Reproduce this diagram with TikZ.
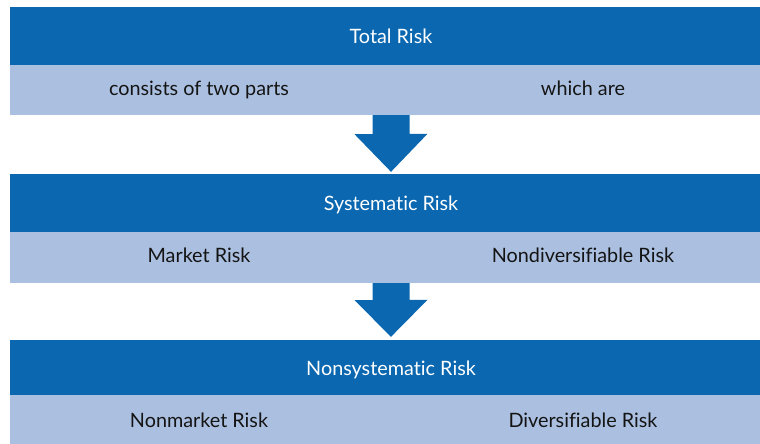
\documentclass[tikz,border=0pt]{standalone}
\usepackage{fontspec}
\setmainfont{Lato}[Ligatures=NoCommon]
\definecolor{bandblue}{RGB}{10,103,176}
\definecolor{bandlight}{RGB}{171,192,224}
\definecolor{inktext}{RGB}{20,20,20}
\tikzset{
    darkband/.style={fill=bandblue, text=white, minimum width=762pt, inner sep=0pt,
        text height=19pt, text depth=4pt},
    lightband/.style={fill=bandlight, minimum width=762pt, inner sep=0pt},
    celltext/.style={text=inktext, inner sep=0pt, text height=14pt, text depth=4pt},
    downarrow/.style={fill=bandblue}
}
\begin{document}
\begin{tikzpicture}[x=1pt, y=-1pt, font=\fontsize{19.8}{23}\selectfont]
    \useasboundingbox (0,0) rectangle (760,444);
    \clip (0,0) rectangle (760,444);
    % first block
    \node[darkband, minimum height=58pt] (total) at (391,36) {Total Risk};
    \node[lightband, minimum height=50pt] (parts) at (391,90) {};
    \node[celltext] (consists) at (199,90) {consists of two parts};
    \node[celltext] (which) at (583,90) {which are};
    % second block
    \node[darkband, minimum height=58pt] (sys) at (391,203) {Systematic Risk};
    \node[lightband, minimum height=51pt] (sysparts) at (391,257.5) {};
    \node[celltext] (market) at (199,257) {Market Risk};
    \node[celltext] (nondiv) at (583,257) {Nondiversifiable Risk};
    % third block
    \node[darkband, minimum height=55pt] (nonsys) at (391,367.5) {Nonsystematic Risk};
    \node[lightband, minimum height=52pt] (nonsysparts) at (391,421) {};
    \node[celltext] (nonmarket) at (199,422) {Nonmarket Risk};
    \node[celltext] (diversif) at (583,422) {Diversifiable Risk};
    % arrows
    \fill[downarrow] ([xshift=-18.5pt]parts.south) -- ++(0,19) -- ++(-18,0)
        -- ([yshift=2pt]sys.north) -- ++(36.5,-38) -- ++(-18,0) -- ([xshift=18.5pt]parts.south) -- cycle;
    \fill[downarrow] ([xshift=-18.5pt]sysparts.south) -- ++(0,17) -- ++(-18,0)
        -- ([yshift=3pt]nonsys.north) -- ++(36.5,-37) -- ++(-18,0) -- ([xshift=18.5pt]sysparts.south) -- cycle;
\end{tikzpicture}
\end{document}
